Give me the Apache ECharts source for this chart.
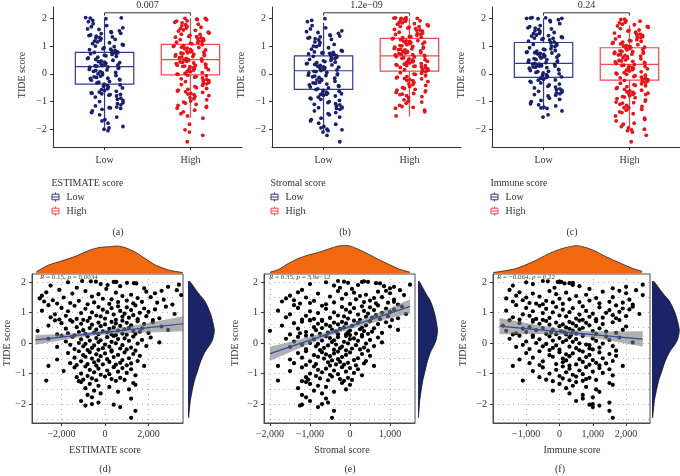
<!DOCTYPE html>
<html><head><meta charset="utf-8">
<script src="https://cdn.jsdelivr.net/npm/echarts@6/dist/echarts.min.js"></script>
<style>html,body{margin:0;padding:0;background:#fff}#c{width:680px;height:476px}</style>
</head><body><div id="c"></div>
<script>
// ---------- DATA ----------
// TIDE score of each sample (shared by the three scatter plots)
const tide = [
 2.03,2.02,2.01,2.0,2.0,1.99,1.97,1.96,1.95,1.93,
 1.91,1.9,1.88,1.86,1.84,1.81,1.79,1.77,
 1.74,1.73,1.71,1.7,1.68,1.66,1.65,1.63,1.62,1.6,
 1.58,1.57,1.55,1.54,1.52,1.5,1.49,1.47,1.46,1.45,
 1.43,1.42,1.4,1.39,1.38,1.36,1.35,1.34,1.33,1.32,
 1.31,1.3,1.29,1.28,1.27,1.26,
 1.24,1.23,1.22,1.2,1.19,1.18,1.17,1.15,1.14,1.13,
 1.12,1.1,1.09,1.08,1.06,1.05,1.04,1.02,1.01,1.0,
 0.99,0.98,0.96,0.95,0.94,0.93,0.91,0.9,0.89,0.88,
 0.87,0.86,0.84,0.83,0.82,0.81,0.8,0.79,0.78,0.77,
 0.76,0.76,0.75,0.75,
 0.74,0.73,0.72,0.71,0.7,0.69,0.68,0.67,0.66,0.65,
 0.64,0.63,0.62,0.61,0.6,0.58,0.57,0.56,0.55,0.54,
 0.52,0.51,0.5,0.49,0.48,0.47,0.46,0.45,0.44,0.43,
 0.42,0.41,0.4,0.39,0.38,0.37,0.36,0.35,0.34,0.33,
 0.32,0.31,0.3,0.3,0.29,0.28,0.28,0.27,0.26,0.25,
 0.24,0.23,0.22,0.21,0.2,0.19,0.18,0.16,0.15,0.14,
 0.13,0.12,0.1,0.09,0.08,0.07,0.05,0.04,0.03,0.02,
 0.0,-0.01,-0.02,-0.03,-0.05,-0.06,-0.07,-0.08,-0.1,-0.11,
 -0.12,-0.13,-0.15,-0.16,-0.17,-0.18,-0.2,-0.21,-0.22,-0.23,
 -0.24,-0.25,
 -0.27,-0.28,-0.3,-0.31,-0.33,-0.34,-0.36,-0.37,-0.39,-0.4,
 -0.42,-0.43,-0.45,-0.46,-0.48,-0.5,-0.51,-0.53,-0.54,-0.56,
 -0.57,-0.59,-0.6,-0.62,-0.63,-0.65,-0.66,-0.67,-0.69,-0.7,
 -0.71,-0.72,-0.73,-0.74,-0.75,-0.75,
 -0.77,-0.79,-0.8,-0.82,-0.84,-0.86,-0.88,-0.9,-0.92,-0.94,
 -0.96,-0.98,-1.0,-1.02,-1.04,-1.06,-1.08,-1.1,-1.12,-1.14,
 -1.16,-1.18,-1.2,-1.21,-1.22,-1.23,-1.24,-1.25,
 -1.28,-1.31,-1.34,-1.37,-1.4,-1.44,-1.48,-1.52,-1.56,-1.6,-1.65,-1.7,
 -1.78,-1.82,-1.9,-1.95,-2.0,-2.02,-2.05,-2.1,-2.22,-2.45
];
const estimateScore = [
 -1050,-650,-420,400,520,-1700,1010,1330,1440,-200,
 3400,120,-2500,700,2900,-1300,1800,60,
 -2100,3300,2600,-900,1900,-2700,500,2300,-1500,-300,
 1200,3500,-2900,800,-600,2100,-1900,1500,-3000,-100,
 300,2700,-2400,1000,-1200,-2800,1700,600,-500,2400,
 -1600,1300,-2200,200,-800,3100,
 -2600,1400,-1400,600,2800,-300,1000,-2000,300,1800,
 -900,2300,-100,1200,-2900,700,-1700,2000,100,-600,
 1600,-1100,900,3200,-2300,400,1300,-400,-1800,1900,
 -200,800,-2500,1100,-700,2500,0,-1300,1500,-2100,
 500,-1000,2200,-1600,
 -2300,800,-800,1500,-1500,300,2200,-300,1000,-2000,
 500,-1100,1800,0,-600,1200,-2600,700,-200,2600,
 -1300,400,1100,-700,1700,-1800,200,900,-400,2900,
 -1000,600,-3100,1300,-100,1600,-1200,100,-500,2000,
 -1700,800,-900,1400,-300,300,-2200,1000,500,-1400,
 -2000,400,-800,1300,-1500,100,2100,-400,900,-2600,
 600,-1100,1700,-200,-700,1100,-1800,300,-300,2500,
 -1200,500,1500,-900,0,-1600,800,-500,1900,-1000,
 200,-2200,1200,-600,-100,700,-1400,1000,-300,-800,
 300,1400,
 -1200,300,-700,900,-1700,0,1300,-400,600,-1000,
 1600,-200,-900,400,-1400,1100,-600,100,-2200,800,
 -300,1500,-1100,200,-500,700,-1600,1200,-800,-100,
 500,-1300,1000,-400,-2600,1800,
 -900,400,-1400,800,-300,1200,-700,100,-1900,600,
 -500,1000,-1100,200,-200,1400,-800,0,-1300,700,
 -600,300,-1000,900,-400,-2700,500,-1200,
 -1100,1300,-700,1400,-300,200,-900,1100,-500,600,-200,-800,
 -600,1200,-1100,-300,-600,400,-900,700,1400,1200
];
const stromalScore = [
 -300,350,-150,300,450,-600,-50,650,750,-1000,
 1500,200,-400,850,1100,-250,1000,50,
 -1200,1250,900,-300,700,-1300,100,1000,-800,-100,
 400,1350,-1500,250,-500,800,-1100,600,-1600,-200,
 150,1100,-1400,500,-900,-1700,1100,350,-400,950,
 -1000,650,-1250,0,-600,1200,
 -1400,700,-700,300,1300,-200,500,-1300,100,900,
 -600,1100,-100,600,-1800,350,-1000,1000,0,-400,
 800,-800,450,1400,-1500,200,650,-300,-1100,950,
 -150,400,-1600,550,-500,1200,-50,-900,750,-1200,
 250,-700,1050,-1000,
 -1000,100,-700,500,-1200,-200,900,-400,200,-1400,
 -100,-800,700,-300,-600,400,-1700,50,-500,1000,
 -900,-150,300,-700,600,-1300,-250,250,-450,1200,
 -850,0,-2000,350,-350,550,-1100,-50,-550,800,
 -1250,150,-750,450,-300,-100,-1500,300,0,-950,
 -1100,-100,-600,300,-1300,-300,700,-500,100,-1600,
 0,-900,500,-400,-700,200,-1400,-150,-450,800,
 -1000,-50,400,-800,-350,-1200,150,-550,600,-850,
 -200,-1500,350,-650,-250,50,-1100,250,-400,-750,
 -100,450,
 -1100,-300,-700,0,-1300,-400,300,-600,-100,-900,
 500,-500,-800,-200,-1200,200,-650,-300,-1500,100,
 -450,400,-1000,-250,-550,-50,-1400,350,-850,-350,
 -150,-1100,150,-500,-1800,600,
 -900,-200,-1200,0,-600,200,-800,-400,-1500,-100,
 -700,100,-1000,-300,-500,300,-850,-450,-1100,-50,
 -750,-250,-1050,50,-550,-1800,-150,-1200,
 -1100,-200,-1000,0,-800,-600,-1300,-100,-900,-400,-700,-1200,
 -1100,-600,-1000,-550,-700,-1200,-1250,-800,-400,-450
];
const immuneScore = [
 -500,-350,0,50,-50,-1000,400,300,150,-800,
 2500,400,-1400,600,2000,-150,1600,900,
 -1500,2300,1800,-300,1300,-1200,200,2000,-800,-100,
 800,2500,-1300,500,-600,1600,-1000,1100,-1600,0,
 300,2100,-1100,900,-400,-1400,1500,600,-200,1900,
 -900,1200,-700,100,-500,2200,
 -1300,1700,-600,700,2200,-100,1200,-1000,400,1900,
 -400,2100,100,1500,-1600,800,-800,1800,300,-200,
 1400,-500,1000,2400,-1100,600,1600,0,-900,2000,
 200,900,-1400,1300,-300,1700,500,-700,1100,-1200,
 700,-500,1800,-800,
 -1500,600,-400,1100,-800,300,1600,-100,800,-1200,
 400,-600,1300,100,-300,900,-1700,500,0,2000,
 -900,200,700,-500,1200,-1100,300,600,-200,1900,
 -700,400,-1600,1000,50,1400,-1000,150,-250,1700,
 -1300,500,-400,1100,-100,200,-1400,700,350,-800,
 -1200,700,-300,1400,-800,300,1800,0,1000,-1500,
 500,-600,1500,200,-200,1100,-1000,400,100,2200,
 -700,600,1300,-400,800,-1100,900,-100,1600,-500,
 300,-1300,1200,-200,500,900,-900,1000,0,-300,
 600,1700,
 -600,700,0,1200,-1000,400,1500,200,900,-300,
 1700,300,-200,800,-800,1300,100,600,-1200,1000,
 200,1600,-500,700,100,1100,-900,1400,-100,500,
 900,-600,1200,300,-1400,1900,
 100,800,-500,1200,300,1500,-100,600,-800,1000,
 200,1300,-300,700,400,1600,0,500,-600,900,
 100,800,-400,1100,300,-1100,700,-200,
 500,1500,0,1600,400,800,200,1100,-200,1200,300,700,
 1000,700,500,1500,1000,900,1200,1000,1500,1600
];
const groupNames = ['Low', 'High'];
const scoreNames = ['ESTIMATE score', 'Stromal score', 'Immune score'];
// box stats: [min whisker, Q1, median, Q3, max whisker]
const boxLow  = [[-1.93,-0.37,0.26,0.77,2.0], [-2.08,-0.56,0.11,0.65,1.84], [-1.3,-0.13,0.38,1.13,2.0]];
const boxHigh = [[-1.6,-0.04,0.51,1.06,2.0],  [-1.54,0.1,0.65,1.28,2.0],   [-1.96,-0.23,0.34,0.94,1.76]];
const pValues = ['0.007', '1.2e\u221209', '0.24'];
const corrR = ['0.15', '0.35', '\u22120.064'];
const corrP = ['0.0034', '3.9e\u221212', '0.22'];
const panelTags = ['(a)', '(b)', '(c)', '(d)', '(e)', '(f)'];
const yTicks = [-2, -1, 0, 1, 2];
const xTicksBottom = [[-2000, 0, 2000], [-2000, -1000, 0, 1000], [-1000, 0, 1000, 2000]];
// regression fit and confidence band
const fitX = [[-3200,-2000,-1000,0,1000,2000,3600], [-2000,-1500,-1000,-500,0,500,1000,1500], [-1800,-1000,-500,0,500,1000,1500,2500]];
const fitY = [[0.10,0.194,0.272,0.349,0.427,0.505,0.63], [-0.35,-0.129,0.093,0.314,0.536,0.757,0.979,1.2], [0.55,0.472,0.423,0.374,0.325,0.277,0.228,0.13]];
const fitHalf = [[0.16,0.10,0.064,0.069,0.109,0.16,0.246], [0.23,0.171,0.117,0.077,0.077,0.117,0.171,0.23], [0.265,0.18,0.131,0.092,0.081,0.106,0.15,0.254]];
// marginal densities (relative heights)
const densTopX = [[-3160,-2600,-1970,-1330,-700,-220,250,570,890,1365,1840,2320,2950,3580],
                  [-2000,-1790,-1540,-1290,-1040,-790,-540,-290,-40,210,460,710,960,1210,1500],
                  [-1990,-1650,-1300,-800,-300,100,500,700,1000,1400,1800,2200,2480]];
const densTopH = [[5,25,38,52,70,78,80,82,78,65,45,25,10,3],
                  [4,12,30,45,55,63,73,82,83,72,58,42,28,14,4],
                  [3,8,15,35,60,75,83,80,70,50,32,15,7]];
const densRightY = [2.03,1.9,1.73,1.55,1.4,1.2,1.07,0.9,0.74,0.55,0.42,0.25,0.09,-0.08,-0.24,-0.4,-0.57,-0.75,-0.9,-1.05,-1.22,-1.4,-1.55,-1.72,-1.88,-2.1,-2.3,-2.45];
const densRightW = [4,14,25,38,50,60,65,71,75,79,81,79,75,66,55,47,40,34,30,25,20,16,13,10,7,5,3,2];

// ---------- LAYOUT / STYLE ----------
const FONT = "'Liberation Serif','Times New Roman',serif";
const dark = '#333';
const ptColors = ['#18206B', '#E3151B'];
const boxColors = ['#2E3A8A', '#EE4A4D'];
const orange = '#F2680F', navyFill = '#1A2466';
const topLeft = [53, 272, 492];
const botLeft = [32, 264, 493], botWidth = [151, 151, 157];
const xRange = [[-3356, 3586], [-2150, 1625], [-1996, 2718]];
const yRangeBot = [-2.62, 2.26];
const rightLeft = [188, 418, 652], rightWidth = [27, 20, 28];
const scoreArrays = [estimateScore, stromalScore, immuneScore];
const panelTagX = [118, 345, 572, 105, 350, 560];
const xTitleX = [105, 342, 572];
const yTitleBotX = [7, 235, 463];
const annX = [40, 269, 497];

function fmt(v) { return (v < 0 ? '\u2212' : '') + Math.abs(v).toLocaleString('en-US'); }
// deterministic horizontal spread of the strip points (position only, not data)
function jitter(j) {
  const f = (j * j * 0.6180339887 + j * 0.3247179572) % 1;
  return (f - 0.5) * 0.44;
}
function txt(x, y, text, opts) {
  opts = opts || {};
  return Object.assign({
    type: 'text', x: x, y: y, z: 100, silent: true,
    style: Object.assign({ text: text, font: (opts.size || 10) + 'px ' + FONT, fill: opts.color || dark,
      textAlign: opts.align || 'center', align: opts.align || 'center',
      textVerticalAlign: 'middle', verticalAlign: 'middle' }, opts.style || {})
  }, opts.el || {});
}

const option = { animation: false, backgroundColor: '#fff', textStyle: { fontFamily: FONT },
  grid: [], xAxis: [], yAxis: [], series: [], graphic: [] };

const axisLineStyle = { color: dark, width: 1 };
const labelStyle = { fontSize: 10, color: dark, fontFamily: FONT };

// ----- top row: box plots -----
for (let k = 0; k < 3; k++) {
  option.grid.push({ left: topLeft[k], top: 7, width: 189, height: 140, containLabel: false, outerBoundsMode: 'none' });
  option.xAxis.push({ gridIndex: k, type: 'value', min: 0.4, max: 2.6, splitLine: { show: false },
    axisLine: { show: true, onZero: false, lineStyle: axisLineStyle },
    axisTick: { show: true, length: 3, customValues: [1, 2], lineStyle: axisLineStyle },
    axisLabel: Object.assign({ customValues: [1, 2], margin: 8, formatter: v => groupNames[Math.round(v) - 1] }, labelStyle) });
  option.yAxis.push({ gridIndex: k, type: 'value', min: -2.64, max: 2.41, splitLine: { show: false },
    axisLine: { show: true, onZero: false, lineStyle: axisLineStyle },
    axisTick: { show: true, length: 3, customValues: yTicks, lineStyle: axisLineStyle },
    axisLabel: Object.assign({ customValues: yTicks, margin: 6, formatter: fmt }, labelStyle) });

  // split samples at the median score
  const xs = scoreArrays[k];
  const n = Math.min(xs.length, tide.length);
  const sorted = xs.slice(0, n).sort((a, b) => a - b);
  const med = sorted[Math.floor(n / 2)];
  const lowPts = [], highPts = [];
  for (let i = 0; i < n; i++) {
    if (xs[i] < med) lowPts.push([1 + jitter(lowPts.length + 3 * k), tide[i]]);
    else highPts.push([2 + jitter(highPts.length + 11 + 5 * k), tide[i]]);
  }

  option.series.push({
    type: 'custom', xAxisIndex: k, yAxisIndex: k, z: 2, silent: true,
    data: [[1].concat(boxLow[k]), [2].concat(boxHigh[k])],
    renderItem: function (params, api) {
      const x = api.value(0), mn = api.value(1), q1 = api.value(2), md = api.value(3), q3 = api.value(4), mx = api.value(5);
      const c = boxColors[params.dataIndex];
      const pTop = api.coord([x, mx]), pQ3 = api.coord([x, q3]), pQ1 = api.coord([x, q1]), pMin = api.coord([x, mn]);
      const l = api.coord([x - 0.34, q3]), r = api.coord([x + 0.34, q1]);
      const m1 = api.coord([x - 0.34, md]), m2 = api.coord([x + 0.34, md]);
      const st = { stroke: c, lineWidth: 1.2, fill: null };
      return { type: 'group', children: [
        { type: 'line', shape: { x1: pTop[0], y1: pTop[1], x2: pQ3[0], y2: pQ3[1] }, style: st },
        { type: 'line', shape: { x1: pQ1[0], y1: pQ1[1], x2: pMin[0], y2: pMin[1] }, style: st },
        { type: 'rect', shape: { x: l[0], y: l[1], width: r[0] - l[0], height: r[1] - l[1] }, style: st },
        { type: 'line', shape: { x1: m1[0], y1: m1[1], x2: m2[0], y2: m2[1] }, style: st }
      ] };
    }
  });
  option.series.push({ type: 'scatter', name: 'Low', xAxisIndex: k, yAxisIndex: k, z: 3, symbolSize: 3.8,
    itemStyle: { color: ptColors[0], opacity: 1 }, data: lowPts });
  option.series.push({ type: 'scatter', name: 'High', xAxisIndex: k, yAxisIndex: k, z: 3, symbolSize: 3.8,
    itemStyle: { color: ptColors[1], opacity: 1 }, data: highPts });
  const pv = pValues[k];
  option.series.push({
    type: 'custom', xAxisIndex: k, yAxisIndex: k, z: 4, silent: true, clip: false, data: [[1.5, 2.2]],
    renderItem: function (params, api) {
      const a = api.coord([1, 2.1]), b = api.coord([1, 2.2]), c = api.coord([2, 2.2]), d = api.coord([2, 2.1]);
      return { type: 'group', children: [
        { type: 'polyline', shape: { points: [a, b, c, d] }, style: { stroke: dark, lineWidth: 1, fill: null } },
        { type: 'text', x: (b[0] + c[0]) / 2, y: b[1] - 2.5, style: { text: pv, font: '10px ' + FONT, fill: dark,
          textAlign: 'center', align: 'center', textVerticalAlign: 'bottom', verticalAlign: 'bottom' } }
      ] };
    }
  });

  // axis title, legend, tag
  option.graphic.push(txt(topLeft[k] - 31, 75, 'TIDE score', { el: { rotation: Math.PI / 2 } }));
  option.graphic.push(txt(topLeft[k] - 1.5, 183, scoreNames[k], { align: 'left' }));
  for (let j = 0; j < 2; j++) {
    const cy = 197 + 14 * j, cx = topLeft[k] + 2.5, col = boxColors[j];
    const st = { stroke: col, lineWidth: 1, fill: null };
    option.graphic.push({ type: 'group', x: cx, y: cy, z: 100, silent: true, children: [
      { type: 'line', shape: { x1: 0, y1: -4.5, x2: 0, y2: 4.5 }, style: st },
      { type: 'rect', shape: { x: -3.5, y: -2.8, width: 7, height: 5.6 }, style: Object.assign({}, st, { fill: '#fff' }) },
      { type: 'line', shape: { x1: -3.5, y1: 0, x2: 3.5, y2: 0 }, style: st }
    ] });
    option.graphic.push(txt(topLeft[k] + 13.5, cy, groupNames[j], { align: 'left' }));
  }
  option.graphic.push(txt(panelTagX[k], 232, panelTags[k]));
}

// ----- bottom row: scatter + marginal densities -----
for (let k = 0; k < 3; k++) {
  const gi = 3 + k, ti = 6 + k, ri = 9 + k;
  option.grid[gi] = { left: botLeft[k], top: 274, width: botWidth[k], height: 149, show: true,
    borderColor: '#4a4a4a', borderWidth: 1, backgroundColor: '#fff', containLabel: false, outerBoundsMode: 'none' };
  option.grid[ti] = { left: botLeft[k], top: 245, width: botWidth[k], height: 28.5, containLabel: false, outerBoundsMode: 'none' };
  option.grid[ri] = { left: rightLeft[k], top: 274, width: rightWidth[k], height: 149, containLabel: false, outerBoundsMode: 'none' };
  const dotted = { color: '#b3b3b3', width: 1, type: [1, 4] };
  option.xAxis[gi] = { gridIndex: gi, type: 'value', min: xRange[k][0], max: xRange[k][1],
    axisLine: { show: true, onZero: false, lineStyle: { color: '#4a4a4a' } },
    axisTick: { show: true, length: 3, customValues: xTicksBottom[k], lineStyle: axisLineStyle },
    axisLabel: Object.assign({ customValues: xTicksBottom[k], margin: 6, formatter: fmt }, labelStyle),
    splitLine: { show: true, lineStyle: dotted } };
  option.yAxis[gi] = { gridIndex: gi, type: 'value', min: yRangeBot[0], max: yRangeBot[1],
    axisLine: { show: true, onZero: false, lineStyle: { color: '#4a4a4a' } },
    axisTick: { show: true, length: 3, customValues: yTicks, lineStyle: axisLineStyle },
    axisLabel: Object.assign({ customValues: yTicks, margin: 6, formatter: fmt }, labelStyle),
    splitLine: { show: true, lineStyle: dotted },
    minorTick: { show: false, splitNumber: 2 },
    minorSplitLine: { show: true, lineStyle: dotted } };
  option.xAxis[ti] = { gridIndex: ti, type: 'value', min: xRange[k][0], max: xRange[k][1], show: false };
  option.yAxis[ti] = { gridIndex: ti, type: 'value', min: 0, max: 85, show: false };
  option.xAxis[ri] = { gridIndex: ri, type: 'value', min: 0, max: 83, show: false };
  option.yAxis[ri] = { gridIndex: ri, type: 'value', min: yRangeBot[0], max: yRangeBot[1], show: false };

  const xs = scoreArrays[k];
  const n = Math.min(xs.length, tide.length);
  const pts = [];
  for (let i = 0; i < n; i++) pts.push([xs[i], tide[i]]);
  option.series.push({ type: 'scatter', xAxisIndex: gi, yAxisIndex: gi, z: 3, symbolSize: 4.2,
    itemStyle: { color: '#000', opacity: 1 }, data: pts });

  const fx = fitX[k], fy = fitY[k], fh = fitHalf[k];
  option.series.push({
    type: 'custom', xAxisIndex: gi, yAxisIndex: gi, z: 4, silent: true, data: [[fx[0], fy[0]]],
    renderItem: function (params, api) {
      const up = [], lo = [], ln = [];
      for (let i = 0; i < fx.length; i++) {
        up.push(api.coord([fx[i], fy[i] + fh[i]]));
        lo.unshift(api.coord([fx[i], fy[i] - fh[i]]));
        ln.push(api.coord([fx[i], fy[i]]));
      }
      return { type: 'group', children: [
        { type: 'polygon', shape: { points: up.concat(lo) }, style: { fill: 'rgba(125,125,125,0.6)', stroke: null } },
        { type: 'polyline', shape: { points: ln }, style: { stroke: '#2F4C9F', lineWidth: 1.2, fill: null } }
      ] };
    }
  });

  const dx = densTopX[k], dh = densTopH[k];
  option.series.push({
    type: 'custom', xAxisIndex: ti, yAxisIndex: ti, z: 2, silent: true, clip: false, data: [[dx[0], 0]],
    renderItem: function (params, api) {
      const curve = dx.map((x, i) => api.coord([x, dh[i]]));
      const poly = [api.coord([dx[0], 0])].concat(curve, [api.coord([dx[dx.length - 1], 0])]);
      return { type: 'group', children: [
        { type: 'polygon', shape: { points: poly, smooth: 0 }, style: { fill: orange, stroke: null } },
        { type: 'polyline', shape: { points: curve, smooth: 0.3 }, style: { stroke: '#222', lineWidth: 0.8, fill: null } }
      ] };
    }
  });
  option.series.push({
    type: 'custom', xAxisIndex: ri, yAxisIndex: ri, z: 2, silent: true, clip: false, data: [[0, densRightY[0]]],
    renderItem: function (params, api) {
      const curve = densRightY.map((y, i) => api.coord([densRightW[i], y]));
      const poly = [api.coord([0, densRightY[0]])].concat(curve, [api.coord([0, densRightY[densRightY.length - 1]])]);
      return { type: 'group', children: [
        { type: 'polygon', shape: { points: poly }, style: { fill: navyFill, stroke: null } },
        { type: 'polyline', shape: { points: curve, smooth: 0.3 }, style: { stroke: '#111', lineWidth: 0.8, fill: null } }
      ] };
    }
  });

  option.graphic.push(txt(yTitleBotX[k], 343, 'TIDE score', { el: { rotation: Math.PI / 2 } }));
  option.graphic.push(txt(xTitleX[k], 450, scoreNames[k]));
  option.graphic.push(txt(panelTagX[3 + k], 469, panelTags[3 + k]));
  option.graphic.push({ type: 'text', x: annX[k], y: 277.5, z: 100, silent: true,
    style: { text: '{i|R} = ' + corrR[k] + ', {i|p} = ' + corrP[k], font: '7px ' + FONT, fill: '#444',
      textAlign: 'left', align: 'left', textVerticalAlign: 'middle', verticalAlign: 'middle',
      rich: { i: { fontStyle: 'italic', fontSize: 7, fontFamily: FONT, fill: '#444', color: '#444' } } } });
}

const chart = echarts.init(document.getElementById('c'), null, { renderer: 'canvas' });
chart.setOption(option);
</script>
</body></html>
